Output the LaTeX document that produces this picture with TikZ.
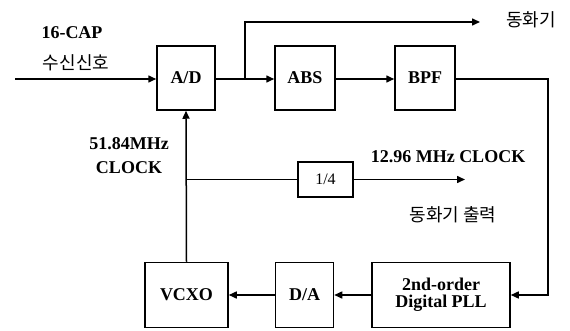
\documentclass[tikz,border=0pt]{standalone}
\usepackage{fontspec}
\setmainfont{Liberation Serif}
\newfontfamily\kor{Noto Sans CJK KR}
\usetikzlibrary{arrows.meta}
\begin{document}
\begin{tikzpicture}[x=1pt,y=-1pt,
  blk/.style={draw,line width=1.5pt,inner sep=0pt,align=center,font=\fontsize{18}{20}\selectfont\bfseries},
  conn/.style={line width=1.5pt},
  arr/.style={line width=1.5pt,-{Triangle[length=8pt,width=7pt]}},
  lbl/.style={font=\fontsize{18}{24}\selectfont\bfseries,align=center,inner sep=0pt},
  klbl/.style={font=\kor\fontsize{18}{20}\selectfont,inner sep=0pt}]
\useasboundingbox[fill=white] (0,0) rectangle (570,331);
% blocks
\node[blk,minimum width=58pt,minimum height=64pt] (ad) at (186,78) {A/D};
\node[blk,minimum width=60pt,minimum height=64pt] (abs) at (305,78) {ABS};
\node[blk,minimum width=60pt,minimum height=64pt] (bpf) at (425,78) {BPF};
\node[blk,minimum width=83pt,minimum height=65pt] (vcxo) at (186.5,295) {VCXO};
\node[blk,minimum width=58pt,minimum height=65pt] (da) at (304.5,295) {D/A};
\node[blk,minimum width=138pt,minimum height=65pt] (pll) at (441,295) {2nd-order\\[-3pt]Digital PLL};
\node[blk,minimum width=55pt,minimum height=35pt,font=\fontsize{16}{18}\selectfont] (q) at (325.5,179.5) {1/4};
% coordinates
\coordinate (in) at (15,79);
\coordinate (j) at (245,79);
\coordinate (top) at (480,22);
\coordinate (rc) at (548,79);
\coordinate (j2) at (187,179.5);
\coordinate (qo) at (465,179.5);
% connectors
\draw[arr] (in) -- (ad.west |- in);
\draw[arr] (ad.east |- in) -- (abs.west |- in);
\draw[arr] (j) |- (top);
\draw[arr] (abs.east |- in) -- (bpf.west |- in);
\draw[arr] (bpf.east |- in) -- (rc) |- (pll.east);
\draw[arr] (pll.west) -- (da.east);
\draw[arr] (da.west) -- (vcxo.east);
\draw[arr] (vcxo.north) -- (ad.south);
\draw[conn] (j2) -- (q.west);
\draw[arr] (q.east) -- (qo);
% labels
\node[lbl] (t1) at (72,33) {16-CAP};
\node[klbl] (t2) at (76,63) {수신신호};
\node[klbl] (t3) at (531,20) {동화기};
\node[lbl] (t4) at (129,156) {51.84MHz\\CLOCK};
\node[lbl] (t5) at (448,157) {12.96 MHz CLOCK};
\node[klbl] (t6) at (453,215) {동화기 출력};
\end{tikzpicture}
\end{document}
